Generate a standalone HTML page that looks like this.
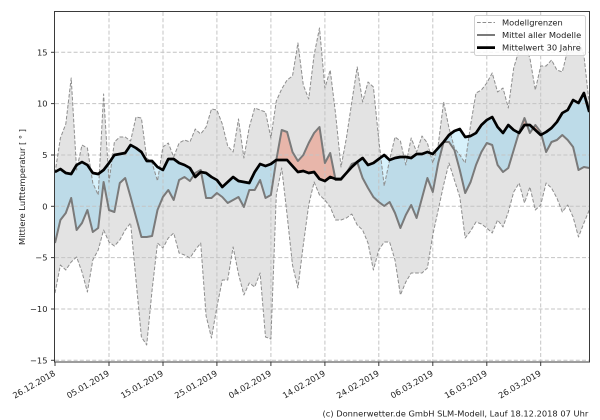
<!DOCTYPE html>
<html><head><meta charset="utf-8"><style>
html,body{margin:0;padding:0;background:#fff;}
svg{display:block;}
text{font-family:"DejaVu Sans","Liberation Sans",sans-serif;font-size:8.3px;fill:#222;}
</style></head><body>
<svg width="600" height="420" viewBox="0 0 600 420" xmlns="http://www.w3.org/2000/svg">
<rect x="0" y="0" width="600" height="420" fill="#fff"/>
<defs>
<clipPath id="ax"><rect x="55" y="12" width="534.3" height="350"/></clipPath>
<clipPath id="band"><polygon points="55,173 60.4,138 65.8,124 71.2,78 76.6,170 82,145 87.4,148 92.8,183 98.2,195 103.6,94 109,182 114.4,142 119.8,137 125.2,137 130.6,141 136,117 141.4,118 146.7,158 152.1,163 157.5,181 162.9,147 168.3,143 173.7,157 179.1,143 184.5,140 189.9,142 195.3,129 200.7,134 206.1,127 211.5,109 216.9,110 222.3,124 227.7,146 233.1,152 238.5,119 243.9,158 249.3,127 254.7,108 260.1,110 265.5,112 270.9,138 276.3,101 281.7,89 287.1,80 292.5,76 297.9,43 303.3,85 308.7,99 314.1,55 319.5,28 324.9,88 330.2,70 335.6,114 341,167 346.4,138 351.8,102 357.2,67 362.6,102 368,82 373.4,87 378.8,140 384.2,186 389.6,160 395,137 400.4,141 405.8,165 411.2,138 416.6,152 422,136 427.4,143 432.8,163 438.2,145 443.6,102 449,128 454.4,148 459.8,155 465.2,163 470.6,125 476,93 481.4,90 486.8,83 492.2,73 497.6,92 503,88 508.3,108 513.7,68 519.1,50 524.5,45 529.9,58 535.3,90 540.7,66 546.1,66 551.5,60 556.9,70 562.3,72 567.7,50 573.1,37 578.5,40 583.9,55 589.3,105 589.3,210 583.9,223 578.5,237 573.1,217 567.7,205 562.3,212 556.9,198 551.5,188 546.1,183 540.7,205 535.3,210 529.9,187 524.5,203 519.1,183 513.7,192 508.3,212 503,227 497.6,220 492.2,233 486.8,228 481.4,224 476,222 470.6,231 465.2,238 459.8,197 454.4,180 449,163 443.6,185 438.2,210 432.8,235 427.4,268 422,273 416.6,273 411.2,273 405.8,282 400.4,295 395,260 389.6,242 384.2,242 378.8,250 373.4,270 368,243 362.6,230 357.2,225 351.8,214 346.4,218 341,220 335.6,220 330.2,207 324.9,200 319.5,195 314.1,182 308.7,205 303.3,245 297.9,288 292.5,265 287.1,215 281.7,168 276.3,195 270.9,339 265.5,337 260.1,273 254.7,287 249.3,283 243.9,295 238.5,274 233.1,247 227.7,280 222.3,280 216.9,307 211.5,338 206.1,316 200.7,243 195.3,250 189.9,258 184.5,255 179.1,253 173.7,233 168.3,238 162.9,248 157.5,243 152.1,290 146.7,345 141.4,337 136,280 130.6,223 125.2,230 119.8,240 114.4,246 109,242 103.6,230 98.2,250 92.8,260 87.4,292 82,272 76.6,257 71.2,262 65.8,270 60.4,265 55,293"/></clipPath>
<clipPath id="below"><polygon points="55,172 60.4,169 65.8,173 71.2,174 76.6,165 82,162 87.4,165 92.8,173 98.2,174 103.6,170 109,163 114.4,155 119.8,154 125.2,153 130.6,145 136,148 141.4,152 146.7,161 152.1,161 157.5,167 162.9,170 168.3,159 173.7,159 179.1,163 184.5,165 189.9,168 195.3,177 200.7,172 206.1,173 211.5,177 216.9,180 222.3,187 227.7,182 233.1,177 238.5,181 243.9,182 249.3,183 254.7,172 260.1,164 265.5,166 270.9,164 276.3,160 281.7,160 287.1,160 292.5,166 297.9,172 303.3,171 308.7,173 314.1,172 319.5,179 324.9,181 330.2,177 335.6,179 341,179 346.4,173 351.8,167 357.2,162 362.6,158 368,165 373.4,163 378.8,159 384.2,155 389.6,160 395,158 400.4,157 405.8,157 411.2,158 416.6,154 422,154 427.4,152 432.8,154 438.2,148 443.6,142 449,135 454.4,131 459.8,129 465.2,137 470.6,136 476,133 481.4,125 486.8,120 492.2,117 497.6,127 503,133 508.3,125 513.7,130 519.1,133 524.5,125 529.9,125 535.3,130 540.7,135 546.1,132 551.5,128 556.9,122 562.3,113 567.7,110 573.1,100 578.5,103 583.9,93 589.3,112 589.3,362 55,362"/></clipPath>
<clipPath id="above"><polygon points="55,172 60.4,169 65.8,173 71.2,174 76.6,165 82,162 87.4,165 92.8,173 98.2,174 103.6,170 109,163 114.4,155 119.8,154 125.2,153 130.6,145 136,148 141.4,152 146.7,161 152.1,161 157.5,167 162.9,170 168.3,159 173.7,159 179.1,163 184.5,165 189.9,168 195.3,177 200.7,172 206.1,173 211.5,177 216.9,180 222.3,187 227.7,182 233.1,177 238.5,181 243.9,182 249.3,183 254.7,172 260.1,164 265.5,166 270.9,164 276.3,160 281.7,160 287.1,160 292.5,166 297.9,172 303.3,171 308.7,173 314.1,172 319.5,179 324.9,181 330.2,177 335.6,179 341,179 346.4,173 351.8,167 357.2,162 362.6,158 368,165 373.4,163 378.8,159 384.2,155 389.6,160 395,158 400.4,157 405.8,157 411.2,158 416.6,154 422,154 427.4,152 432.8,154 438.2,148 443.6,142 449,135 454.4,131 459.8,129 465.2,137 470.6,136 476,133 481.4,125 486.8,120 492.2,117 497.6,127 503,133 508.3,125 513.7,130 519.1,133 524.5,125 529.9,125 535.3,130 540.7,135 546.1,132 551.5,128 556.9,122 562.3,113 567.7,110 573.1,100 578.5,103 583.9,93 589.3,112 589.3,12 55,12"/></clipPath>
<polygon id="mb" points="55,243 60.4,220 65.8,213 71.2,198 76.6,230 82,223 87.4,210 92.8,232 98.2,228 103.6,182 109,210 114.4,212 119.8,183 125.2,178 130.6,197 136,217 141.4,237 146.7,237 152.1,236 157.5,210 162.9,197 168.3,190 173.7,200 179.1,180 184.5,177 189.9,181 195.3,173 200.7,170 206.1,198 211.5,198 216.9,193 222.3,197 227.7,203 233.1,200 238.5,197 243.9,207 249.3,190 254.7,190 260.1,180 265.5,198 270.9,195 276.3,160 281.7,130 287.1,132 292.5,152 297.9,161 303.3,155 308.7,143 314.1,133 319.5,127 324.9,163 330.2,153 335.6,180 341,180 346.4,173 351.8,164 357.2,162 362.6,178 368,188 373.4,197 378.8,202 384.2,206 389.6,202 395,213 400.4,228 405.8,215 411.2,205 416.6,218 422,198 427.4,178 432.8,192 438.2,163 443.6,142 449,142 454.4,150 459.8,170 465.2,193 470.6,182 476,165 481.4,152 486.8,143 492.2,145 497.6,165 503,172 508.3,168 513.7,150 519.1,132 524.5,118 529.9,133 535.3,125 540.7,132 546.1,152 551.5,142 556.9,140 562.3,135 567.7,140 573.1,147 578.5,170 583.9,167 589.3,168 589.3,112 583.9,93 578.5,103 573.1,100 567.7,110 562.3,113 556.9,122 551.5,128 546.1,132 540.7,135 535.3,130 529.9,125 524.5,125 519.1,133 513.7,130 508.3,125 503,133 497.6,127 492.2,117 486.8,120 481.4,125 476,133 470.6,136 465.2,137 459.8,129 454.4,131 449,135 443.6,142 438.2,148 432.8,154 427.4,152 422,154 416.6,154 411.2,158 405.8,157 400.4,157 395,158 389.6,160 384.2,155 378.8,159 373.4,163 368,165 362.6,158 357.2,162 351.8,167 346.4,173 341,179 335.6,179 330.2,177 324.9,181 319.5,179 314.1,172 308.7,173 303.3,171 297.9,172 292.5,166 287.1,160 281.7,160 276.3,160 270.9,164 265.5,166 260.1,164 254.7,172 249.3,183 243.9,182 238.5,181 233.1,177 227.7,182 222.3,187 216.9,180 211.5,177 206.1,173 200.7,172 195.3,177 189.9,168 184.5,165 179.1,163 173.7,159 168.3,159 162.9,170 157.5,167 152.1,161 146.7,161 141.4,152 136,148 130.6,145 125.2,153 119.8,154 114.4,155 109,163 103.6,170 98.2,174 92.8,173 87.4,165 82,162 76.6,165 71.2,174 65.8,173 60.4,169 55,172"/>
</defs>

<g clip-path="url(#ax)">
  <!-- model band -->
  <rect x="0" y="0" width="600" height="420" fill="#e3e3e3" clip-path="url(#band)"/>
  <!-- anomaly fills outside band (light) -->
  <use href="#mb" fill="#d7f1fb" clip-path="url(#below)"/>
  <use href="#mb" fill="#f6d2c8" clip-path="url(#above)"/>
  <!-- anomaly fills inside band -->
  <g clip-path="url(#band)">
    <use href="#mb" fill="#bddbe8" clip-path="url(#below)"/>
    <use href="#mb" fill="#e8b6aa" clip-path="url(#above)"/>
  </g>
  <!-- grid -->
  <g stroke="#c4c4c4" stroke-width="1" stroke-dasharray="4,2.2" fill="none">
    <line x1="109" y1="12" x2="109" y2="362"/>
    <line x1="163" y1="12" x2="163" y2="362"/>
    <line x1="216.9" y1="12" x2="216.9" y2="362"/>
    <line x1="270.9" y1="12" x2="270.9" y2="362"/>
    <line x1="324.9" y1="12" x2="324.9" y2="362"/>
    <line x1="378.8" y1="12" x2="378.8" y2="362"/>
    <line x1="432.8" y1="12" x2="432.8" y2="362"/>
    <line x1="486.8" y1="12" x2="486.8" y2="362"/>
    <line x1="540.7" y1="12" x2="540.7" y2="362"/>
    <line x1="55" y1="52.3" x2="590" y2="52.3"/>
    <line x1="55" y1="103.6" x2="590" y2="103.6"/>
    <line x1="55" y1="155" x2="590" y2="155"/>
    <line x1="55" y1="206.3" x2="590" y2="206.3"/>
    <line x1="55" y1="257.6" x2="590" y2="257.6"/>
    <line x1="55" y1="309" x2="590" y2="309"/>
    <line x1="55" y1="360.3" x2="590" y2="360.3"/>
  </g>
  <!-- bounds -->
  <g stroke="#8e8e8e" stroke-width="1" stroke-dasharray="3.7,1.8" fill="none" stroke-linejoin="round">
    <polyline points="55,173 60.4,138 65.8,124 71.2,78 76.6,170 82,145 87.4,148 92.8,183 98.2,195 103.6,94 109,182 114.4,142 119.8,137 125.2,137 130.6,141 136,117 141.4,118 146.7,158 152.1,163 157.5,181 162.9,147 168.3,143 173.7,157 179.1,143 184.5,140 189.9,142 195.3,129 200.7,134 206.1,127 211.5,109 216.9,110 222.3,124 227.7,146 233.1,152 238.5,119 243.9,158 249.3,127 254.7,108 260.1,110 265.5,112 270.9,138 276.3,101 281.7,89 287.1,80 292.5,76 297.9,43 303.3,85 308.7,99 314.1,55 319.5,28 324.9,88 330.2,70 335.6,114 341,167 346.4,138 351.8,102 357.2,67 362.6,102 368,82 373.4,87 378.8,140 384.2,186 389.6,160 395,137 400.4,141 405.8,165 411.2,138 416.6,152 422,136 427.4,143 432.8,163 438.2,145 443.6,102 449,128 454.4,148 459.8,155 465.2,163 470.6,125 476,93 481.4,90 486.8,83 492.2,73 497.6,92 503,88 508.3,108 513.7,68 519.1,50 524.5,45 529.9,58 535.3,90 540.7,66 546.1,66 551.5,60 556.9,70 562.3,72 567.7,50 573.1,37 578.5,40 583.9,55 589.3,105"/>
    <polyline points="55,293 60.4,265 65.8,270 71.2,262 76.6,257 82,272 87.4,292 92.8,260 98.2,250 103.6,230 109,242 114.4,246 119.8,240 125.2,230 130.6,223 136,280 141.4,337 146.7,345 152.1,290 157.5,243 162.9,248 168.3,238 173.7,233 179.1,253 184.5,255 189.9,258 195.3,250 200.7,243 206.1,316 211.5,338 216.9,307 222.3,280 227.7,280 233.1,247 238.5,274 243.9,295 249.3,283 254.7,287 260.1,273 265.5,337 270.9,339 276.3,195 281.7,168 287.1,215 292.5,265 297.9,288 303.3,245 308.7,205 314.1,182 319.5,195 324.9,200 330.2,207 335.6,220 341,220 346.4,218 351.8,214 357.2,225 362.6,230 368,243 373.4,270 378.8,250 384.2,242 389.6,242 395,260 400.4,295 405.8,282 411.2,273 416.6,273 422,273 427.4,268 432.8,235 438.2,210 443.6,185 449,163 454.4,180 459.8,197 465.2,238 470.6,231 476,222 481.4,224 486.8,228 492.2,233 497.6,220 503,227 508.3,212 513.7,192 519.1,183 524.5,203 529.9,187 535.3,210 540.7,205 546.1,183 551.5,188 556.9,198 562.3,212 567.7,205 573.1,217 578.5,237 583.9,223 589.3,210"/>
  </g>
  <!-- model mean -->
  <polyline fill="none" stroke="#7a7a7a" stroke-width="2" stroke-linejoin="round" points="55,243 60.4,220 65.8,213 71.2,198 76.6,230 82,223 87.4,210 92.8,232 98.2,228 103.6,182 109,210 114.4,212 119.8,183 125.2,178 130.6,197 136,217 141.4,237 146.7,237 152.1,236 157.5,210 162.9,197 168.3,190 173.7,200 179.1,180 184.5,177 189.9,181 195.3,173 200.7,170 206.1,198 211.5,198 216.9,193 222.3,197 227.7,203 233.1,200 238.5,197 243.9,207 249.3,190 254.7,190 260.1,180 265.5,198 270.9,195 276.3,160 281.7,130 287.1,132 292.5,152 297.9,161 303.3,155 308.7,143 314.1,133 319.5,127 324.9,163 330.2,153 335.6,180 341,180 346.4,173 351.8,164 357.2,162 362.6,178 368,188 373.4,197 378.8,202 384.2,206 389.6,202 395,213 400.4,228 405.8,215 411.2,205 416.6,218 422,198 427.4,178 432.8,192 438.2,163 443.6,142 449,142 454.4,150 459.8,170 465.2,193 470.6,182 476,165 481.4,152 486.8,143 492.2,145 497.6,165 503,172 508.3,168 513.7,150 519.1,132 524.5,118 529.9,133 535.3,125 540.7,132 546.1,152 551.5,142 556.9,140 562.3,135 567.7,140 573.1,147 578.5,170 583.9,167 589.3,168"/>
  <!-- 30y mean -->
  <polyline fill="none" stroke="#000" stroke-width="2.7" stroke-linejoin="round" points="55,172 60.4,169 65.8,173 71.2,174 76.6,165 82,162 87.4,165 92.8,173 98.2,174 103.6,170 109,163 114.4,155 119.8,154 125.2,153 130.6,145 136,148 141.4,152 146.7,161 152.1,161 157.5,167 162.9,170 168.3,159 173.7,159 179.1,163 184.5,165 189.9,168 195.3,177 200.7,172 206.1,173 211.5,177 216.9,180 222.3,187 227.7,182 233.1,177 238.5,181 243.9,182 249.3,183 254.7,172 260.1,164 265.5,166 270.9,164 276.3,160 281.7,160 287.1,160 292.5,166 297.9,172 303.3,171 308.7,173 314.1,172 319.5,179 324.9,181 330.2,177 335.6,179 341,179 346.4,173 351.8,167 357.2,162 362.6,158 368,165 373.4,163 378.8,159 384.2,155 389.6,160 395,158 400.4,157 405.8,157 411.2,158 416.6,154 422,154 427.4,152 432.8,154 438.2,148 443.6,142 449,135 454.4,131 459.8,129 465.2,137 470.6,136 476,133 481.4,125 486.8,120 492.2,117 497.6,127 503,133 508.3,125 513.7,130 519.1,133 524.5,125 529.9,125 535.3,130 540.7,135 546.1,132 551.5,128 556.9,122 562.3,113 567.7,110 573.1,100 578.5,103 583.9,93 589.3,112"/>
</g>

<!-- frame -->
<rect x="54.5" y="11.5" width="535" height="350.5" fill="none" stroke="#3a3a3a" stroke-width="1"/>

<!-- y ticks -->
<g stroke="#3a3a3a" stroke-width="1">
  <line x1="51" y1="52.3" x2="55" y2="52.3"/>
  <line x1="51" y1="103.6" x2="55" y2="103.6"/>
  <line x1="51" y1="155" x2="55" y2="155"/>
  <line x1="51" y1="206.3" x2="55" y2="206.3"/>
  <line x1="51" y1="257.6" x2="55" y2="257.6"/>
  <line x1="51" y1="309" x2="55" y2="309"/>
  <line x1="51" y1="360.3" x2="55" y2="360.3"/>
  <line x1="55" y1="362" x2="55" y2="366"/>
  <line x1="109" y1="362" x2="109" y2="366"/>
  <line x1="163" y1="362" x2="163" y2="366"/>
  <line x1="216.9" y1="362" x2="216.9" y2="366"/>
  <line x1="270.9" y1="362" x2="270.9" y2="366"/>
  <line x1="324.9" y1="362" x2="324.9" y2="366"/>
  <line x1="378.8" y1="362" x2="378.8" y2="366"/>
  <line x1="432.8" y1="362" x2="432.8" y2="366"/>
  <line x1="486.8" y1="362" x2="486.8" y2="366"/>
  <line x1="540.7" y1="362" x2="540.7" y2="366"/>
</g>
<g text-anchor="end">
  <text x="47.5" y="55.3">15</text>
  <text x="47.5" y="106.6">10</text>
  <text x="47.5" y="158">5</text>
  <text x="47.5" y="209.3">0</text>
  <text x="47.5" y="260.6">−5</text>
  <text x="47.5" y="312">−10</text>
  <text x="47.5" y="363.3">−15</text>
</g>
<g text-anchor="end">
  <text transform="translate(56,375) rotate(-30)">26.12.2018</text>
  <text transform="translate(110,375) rotate(-30)">05.01.2019</text>
  <text transform="translate(164,375) rotate(-30)">15.01.2019</text>
  <text transform="translate(217.9,375) rotate(-30)">25.01.2019</text>
  <text transform="translate(271.9,375) rotate(-30)">04.02.2019</text>
  <text transform="translate(325.9,375) rotate(-30)">14.02.2019</text>
  <text transform="translate(379.8,375) rotate(-30)">24.02.2019</text>
  <text transform="translate(433.8,375) rotate(-30)">06.03.2019</text>
  <text transform="translate(487.8,375) rotate(-30)">16.03.2019</text>
  <text transform="translate(541.7,375) rotate(-30)">26.03.2019</text>
</g>
<text transform="translate(25,187) rotate(-90)" text-anchor="middle">Mittlere Lufttemperatur [ ° ]</text>

<!-- legend -->
<rect x="474.5" y="15.5" width="111" height="40" rx="2" ry="2" fill="#fff" fill-opacity="0.85" stroke="#d0d0d0" stroke-width="1"/>
<line x1="477" y1="22.5" x2="495" y2="22.5" stroke="#8e8e8e" stroke-width="1" stroke-dasharray="3.7,1.8"/>
<line x1="477" y1="35" x2="495" y2="35" stroke="#7a7a7a" stroke-width="2"/>
<line x1="477" y1="47.6" x2="495" y2="47.6" stroke="#000" stroke-width="2.7"/>
<text x="502" y="25.3">Modellgrenzen</text>
<text x="502" y="37.9">Mittel aller Modelle</text>
<text x="502" y="50.5">Mittelwert 30 Jahre</text>

<!-- footer -->
<text x="588.3" y="416.3" text-anchor="end">(c) Donnerwetter.de GmbH SLM-Modell, Lauf 18.12.2018 07 Uhr</text>
</svg>
</body></html>
